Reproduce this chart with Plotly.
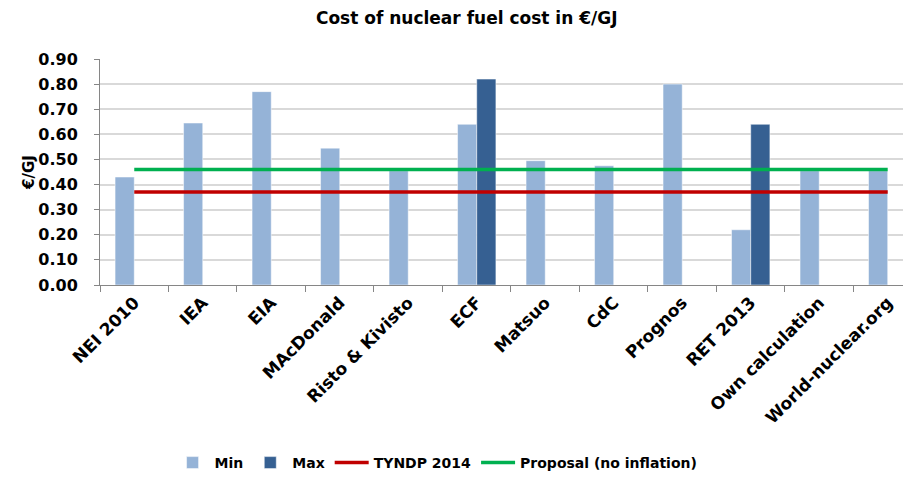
import plotly.graph_objects as go

categories = ["NEI 2010", "IEA", "EIA", "MAcDonald", "Risto & Kivisto", "ECF",
              "Matsuo", "CdC", "Prognos", "RET 2013", "Own calculation", "World-nuclear.org"]
min_values = [0.43, 0.645, 0.77, 0.545, 0.455, 0.64, 0.495, 0.475, 0.80, 0.22, 0.455, 0.455]
max_values = [None, None, None, None, None, 0.82, None, None, None, 0.64, None, None]
tyndp_2014 = 0.37
proposal = 0.46
y_ticks = [0.0, 0.1, 0.2, 0.3, 0.4, 0.5, 0.6, 0.7, 0.8, 0.9]

FONT = "DejaVu Sans"

fig = go.Figure()
fig.add_trace(go.Bar(name="<b>Min</b>", x=categories, y=min_values,
                     marker=dict(color="#95B3D7", line=dict(color="#FFFFFF", width=0.5))))
fig.add_trace(go.Bar(name="<b>Max</b>", x=categories, y=max_values,
                     marker=dict(color="#366092", line=dict(color="#FFFFFF", width=0.5))))
fig.add_trace(go.Scatter(name="<b>TYNDP 2014</b>", x=[categories[0], categories[-1]],
                         y=[tyndp_2014, tyndp_2014], mode="lines",
                         line=dict(color="#C00000", width=3.5)))
fig.add_trace(go.Scatter(name="<b>Proposal (no inflation)</b>", x=[categories[0], categories[-1]],
                         y=[proposal, proposal], mode="lines",
                         line=dict(color="#00B050", width=3.5)))

fig.update_layout(
    width=903, height=471,
    margin=dict(l=92, r=0, t=51, b=193),
    paper_bgcolor="white", plot_bgcolor="white",
    barmode="group", bargap=0.44, bargroupgap=0,
    font=dict(family=FONT, color="#000000", size=14),
    title=dict(text="<b>Cost of nuclear fuel cost in €/GJ</b>", x=0.508, xanchor="center",
               y=0.979, yanchor="middle", font=dict(family=FONT, size=17)),
    showlegend=True,
    legend=dict(orientation="h", x=0.415, xanchor="center", y=-0.785, yanchor="middle",
                font=dict(family=FONT, size=14, color="#000000"),
                itemwidth=34, tracegroupgap=0, traceorder="normal"),
    xaxis=dict(type="category", range=[-0.5, 11.34], tickson="boundaries",
               ticks="outside", ticklen=6, tickcolor="#868686",
               showline=True, linecolor="#868686", linewidth=1,
               showgrid=False, tickangle=-45,
               tickfont=dict(family=FONT, size=17, color="#000000"),
               tickvals=categories, ticktext=["<b>%s</b>" % c for c in categories]),
    yaxis=dict(range=[0, 0.9], tickvals=y_ticks,
               ticktext=["<b>%.2f</b>" % v for v in y_ticks],
               ticks="outside", ticklen=5, tickcolor="#868686",
               ticklabelstandoff=13,
               showline=True, linecolor="#868686", linewidth=1,
               showgrid=True, gridcolor="#D9D9D9", gridwidth=1.5,
               zeroline=False,
               tickfont=dict(family=FONT, size=16, color="#000000"),
               title=dict(text="<b>€/GJ</b>", font=dict(family=FONT, size=15), standoff=0)),
)

fig.write_html("out.html")
